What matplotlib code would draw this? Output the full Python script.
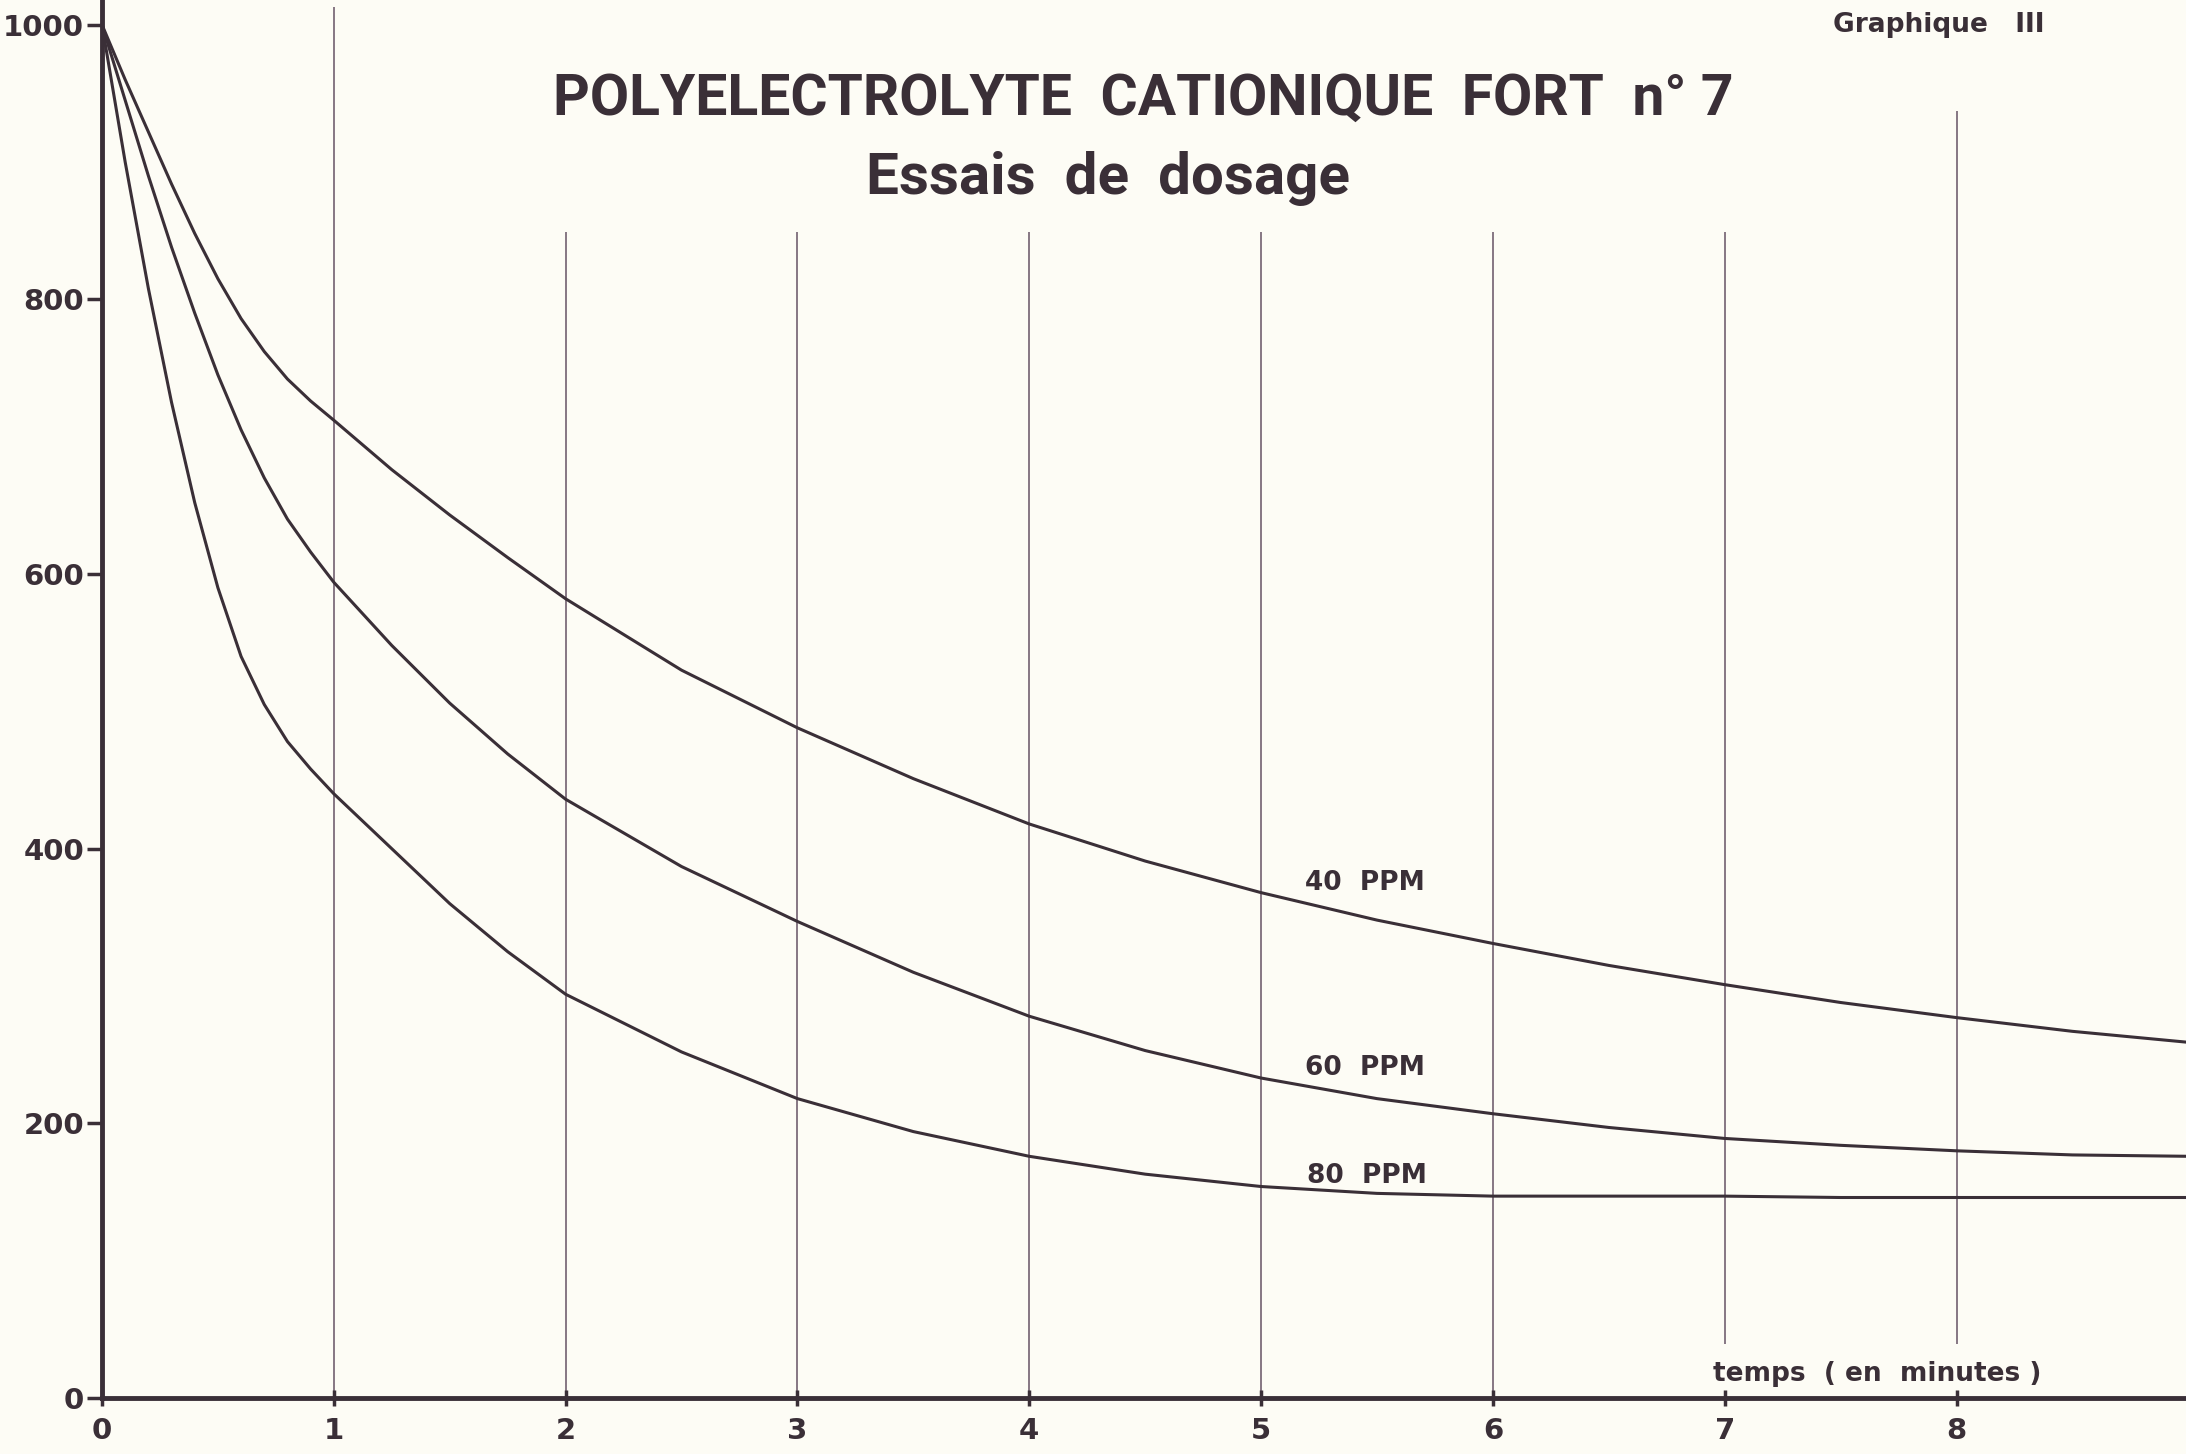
import matplotlib
matplotlib.use("Agg")
import matplotlib.pyplot as plt

# ---------------- data ----------------
time_min = [0, 0.1, 0.2, 0.3, 0.4, 0.5, 0.6, 0.7, 0.8, 0.9, 1.0, 1.25, 1.5, 1.75,
            2.0, 2.5, 3.0, 3.5, 4.0, 4.5, 5.0, 5.5, 6.0, 6.5, 7.0, 7.5, 8.0, 8.5, 9.0]
ppm40 = [1000, 960, 922, 884, 848, 815, 786, 762, 742, 726, 712, 676, 643, 612,
         582, 530, 488, 451, 418, 391, 368, 348, 331, 315, 301, 288, 277, 267, 259]
ppm60 = [1000, 945, 890, 838, 790, 745, 705, 670, 640, 616, 594, 548, 506, 469,
         436, 387, 347, 310, 278, 253, 233, 218, 207, 197, 189, 184, 180, 177, 176]
ppm80 = [1000, 900, 808, 725, 652, 590, 540, 505, 478, 458, 440, 400, 360, 325,
         294, 252, 218, 194, 176, 163, 154, 149, 147, 147, 147, 146, 146, 146, 146]
series_labels = ["40  PPM", "60  PPM", "80  PPM"]
label_pos = [(5.19, 375), (5.19, 240), (5.2, 162)]

x_ticks = [0, 1, 2, 3, 4, 5, 6, 7, 8]
y_ticks = [0, 200, 400, 600, 800, 1000]
grid_x = [1, 2, 3, 4, 5, 6, 7, 8]
grid_top = [1013, 849, 849, 849, 849, 849, 849, 937]
grid_bottom = [0, 0, 0, 0, 0, 0, 39, 39]

title = "POLYELECTROLYTE  CATIONIQUE  FORT  n° 7"
subtitle = "Essais  de  dosage"
corner = "Graphique   III"
xlabel = "temps  ( en  minutes )"

# ---------------- style ----------------
INK = "#3a2f37"
GRID = "#7d6d7b"
BG = "#fdfcf5"
TITLE_FONT = ["Roboto", "DejaVu Sans"]
LABEL_FONT = ["DejaVu Sans"]

fig = plt.figure(figsize=(21.86, 14.54), dpi=100, facecolor=BG)
ax = fig.add_axes([102 / 2186, 56 / 1454, 1 - 102 / 2186, 1 - 56 / 1454])
ax.set_facecolor(BG)
ax.set_xlim(0, 8.99)
ax.set_ylim(0, 1018)

# vertical guide lines
ax.vlines(grid_x, grid_bottom, grid_top, colors=GRID, linewidth=1.3, zorder=1)

# curves
for ys in (ppm40, ppm60, ppm80):
    ax.plot(time_min, ys, color=INK, linewidth=2.2, solid_capstyle="round",
            solid_joinstyle="round", zorder=3, clip_on=False)

for lab, (lx, ly) in zip(series_labels, label_pos):
    ax.text(lx, ly, lab, fontsize=19, fontweight="bold", color=INK,
            family=LABEL_FONT, ha="left", va="center")

ax.text(6.95, 8, xlabel, fontsize=19, fontweight="bold", color=INK,
        family=LABEL_FONT, ha="left", va="bottom")

# spines / ticks
for s in ("top", "right"):
    ax.spines[s].set_visible(False)
for s in ("left", "bottom"):
    ax.spines[s].set_linewidth(3.5)
    ax.spines[s].set_color(INK)

ax.set_xticks(x_ticks)
ax.set_xticklabels([str(v) for v in x_ticks])
ax.set_yticks(y_ticks)
ax.set_yticklabels([str(v) for v in y_ticks])
ax.tick_params(axis="y", direction="out", length=11, width=2.5, color=INK,
               pad=2, labelsize=21, labelcolor=INK)
ax.tick_params(axis="x", direction="inout", length=12, width=2.5, color=INK,
               pad=8, labelsize=21, labelcolor=INK)
for lbl in ax.get_xticklabels() + ax.get_yticklabels():
    lbl.set_fontweight("bold")
    lbl.set_family(LABEL_FONT)

# titles
fig.text(0.523, 0.932, title, fontsize=41, fontweight="bold", color=INK,
         family=TITLE_FONT, ha="center", va="center")
fig.text(0.507, 0.877, subtitle, fontsize=42, fontweight="bold", color=INK,
         family=TITLE_FONT, ha="center", va="center")
fig.text(0.887, 0.983, corner, fontsize=19, fontweight="bold", color=INK,
         family=LABEL_FONT, ha="center", va="center")

fig.savefig("out.png", dpi=100, facecolor=BG)
